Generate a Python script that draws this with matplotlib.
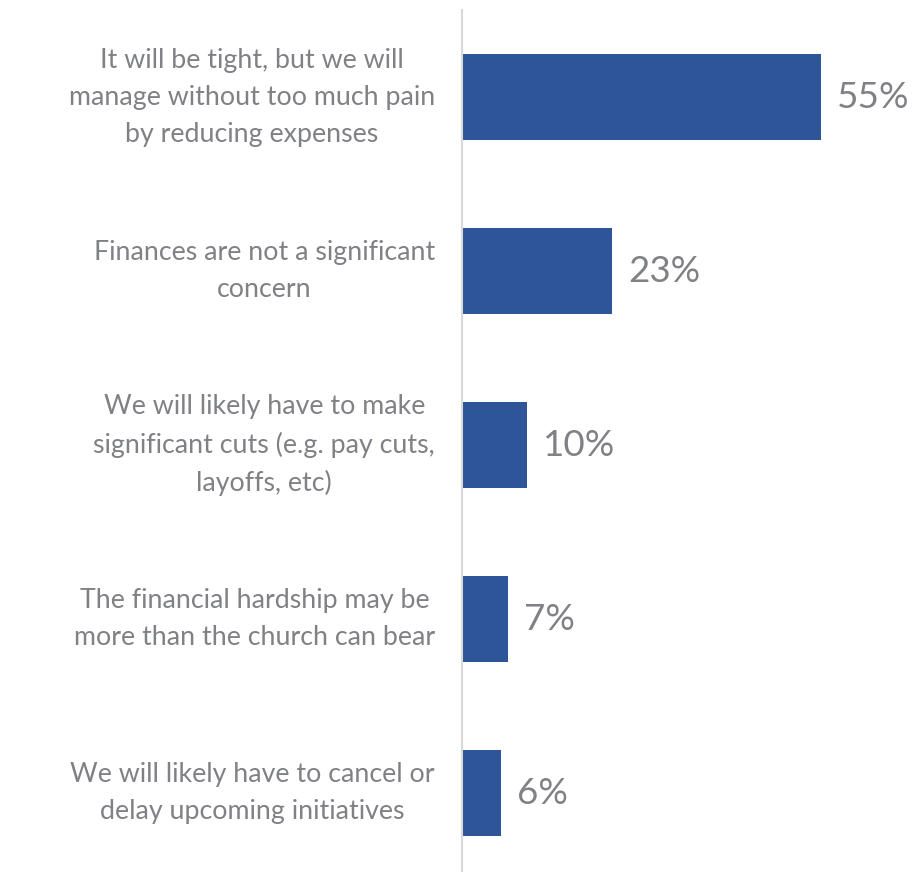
import matplotlib
matplotlib.use("Agg")
import matplotlib.pyplot as plt

categories = [
    "It will be tight, but we will\nmanage without too much pain\nby reducing expenses",
    "Finances are not a significant\nconcern",
    "We will likely have to make\nsignificant cuts (e.g. pay cuts,\nlayoffs, etc)",
    "The financial hardship may be\nmore than the church can bear",
    "We will likely have to cancel or\ndelay upcoming initiatives",
]
values = [55, 23, 10, 7, 6]
value_labels = ["55%", "23%", "10%", "7%", "6%"]

bar_color = "#2E5597"
text_color = "#7F8185"

plt.rcParams["font.family"] = ["Lato", "DejaVu Sans"]

W, H = 924, 872
fig = plt.figure(figsize=(W / 100, H / 100), dpi=100)
# axes from x=462 px to right edge, y from 10 px to bottom
ax = fig.add_axes([462 / W, 0, 1 - 462 / W, (H - 10) / H])

y = list(range(len(values)))
ax.barh(y, values, height=0.49, color=bar_color)
ax.set_xlim(0, 462 / 6.53)
ax.set_ylim((872 - 97) / 174, -0.5)

for i, (v, lab) in enumerate(zip(values, value_labels)):
    ax.annotate(lab, xy=(v, i), xytext=(16, 0), textcoords="offset pixels",
                va="center", ha="left", fontsize=26.5, color=text_color)

for i, cat in enumerate(categories):
    ax.annotate(cat, xy=(0, i), xycoords="data", xytext=(-27, 0), textcoords="offset pixels",
                ha="right", va="center", multialignment="center",
                fontsize=19.3, color=text_color, linespacing=1.6)

ax.set_xticks([])
ax.set_yticks([])
for s in ["top", "right", "bottom"]:
    ax.spines[s].set_visible(False)
ax.spines["left"].set_color("#D9D9D9")
ax.spines["left"].set_linewidth(1.5)

fig.savefig("out.png", dpi=100)
